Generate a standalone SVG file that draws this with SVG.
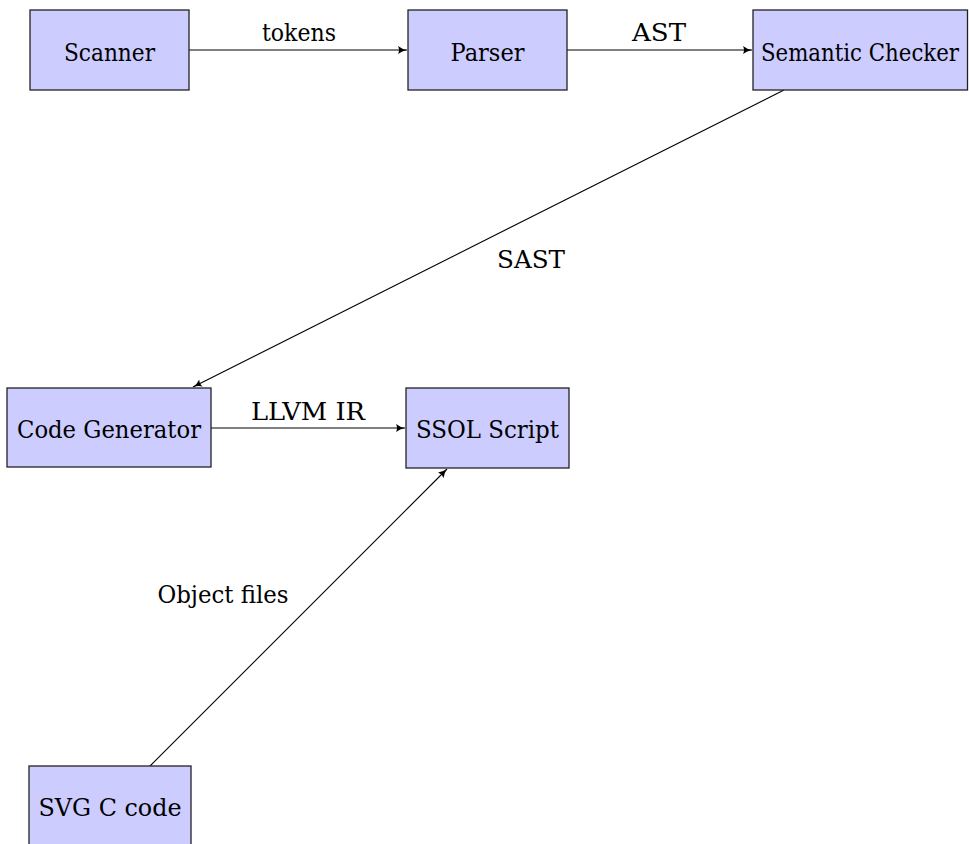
<svg xmlns="http://www.w3.org/2000/svg" width="969" height="844" viewBox="0 0 969 844">
  <style>
    .box { fill: #ccccff; stroke: #222; stroke-width: 1.3; }
    text { font-family: 'DejaVu Serif', serif; font-size: 24px; fill: #000; text-anchor: middle; }
    .edge { stroke: #000; stroke-width: 1.1; fill: none; marker-end: url(#arr); }
  </style>
  <defs>
    <marker id="arr" markerUnits="userSpaceOnUse" markerWidth="12" markerHeight="10" refX="9" refY="4" orient="auto">
      <path d="M0,0 Q4,3.2 9,4 Q4,4.8 0,8 Q2,4 0,0 z" fill="#000"/>
    </marker>
  </defs>
  <rect width="969" height="844" fill="#fff"/>
  <g id="connectors">
    <line class="edge" x1="189" y1="50" x2="407" y2="50"/>
    <text x="299" y="41" textLength="74" lengthAdjust="spacingAndGlyphs">tokens</text>
    <line class="edge" x1="567" y1="50" x2="752" y2="50"/>
    <text x="659" y="41" textLength="54" lengthAdjust="spacingAndGlyphs">AST</text>
    <line class="edge" x1="784" y1="90" x2="193" y2="387"/>
    <text x="531" y="268" textLength="68" lengthAdjust="spacingAndGlyphs">SAST</text>
    <line class="edge" x1="211" y1="428" x2="405" y2="428"/>
    <text x="308" y="420" textLength="114" lengthAdjust="spacingAndGlyphs">LLVM IR</text>
    <line class="edge" x1="150" y1="766" x2="447" y2="469"/>
    <text x="223" y="603" textLength="131" lengthAdjust="spacingAndGlyphs">Object files</text>
  </g>
  <g id="scanner">
    <rect class="box" x="30" y="10" width="159" height="80"/>
    <text x="109.5" y="61" textLength="91" lengthAdjust="spacingAndGlyphs">Scanner</text>
  </g>
  <g id="parser">
    <rect class="box" x="408" y="10" width="159" height="80"/>
    <text x="487.5" y="61" textLength="74" lengthAdjust="spacingAndGlyphs">Parser</text>
  </g>
  <g id="semantic-checker">
    <rect class="box" x="753" y="10" width="214.5" height="80"/>
    <text x="860" y="61" font-size="22" textLength="198" lengthAdjust="spacingAndGlyphs">Semantic Checker</text>
  </g>
  <g id="code-generator">
    <rect class="box" x="7" y="388" width="204" height="79"/>
    <text x="109" y="438" textLength="184" lengthAdjust="spacingAndGlyphs">Code Generator</text>
  </g>
  <g id="ssol-script">
    <rect class="box" x="406" y="388" width="163" height="80"/>
    <text x="487.5" y="438" textLength="143" lengthAdjust="spacingAndGlyphs">SSOL Script</text>
  </g>
  <g id="svg-c-code">
    <rect class="box" x="29" y="766" width="162" height="90"/>
    <text x="110" y="816" textLength="143" lengthAdjust="spacingAndGlyphs">SVG C code</text>
  </g>
</svg>
